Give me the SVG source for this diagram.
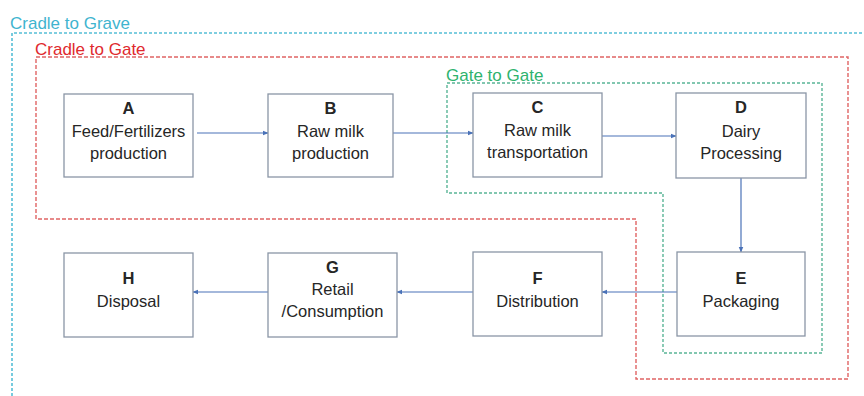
<svg xmlns="http://www.w3.org/2000/svg" width="864" height="396" viewBox="0 0 864 396">
  <style>
    .box { fill: #ffffff; stroke: #8a96a6; stroke-width: 1.3; }
    .lbl { font-family: "Liberation Sans", Arial, sans-serif; font-size: 16.5px; fill: #262626; text-anchor: middle; }
    .key { font-weight: bold; }
    .scope { font-family: "Liberation Sans", Arial, sans-serif; font-size: 17px; }
    .flow { fill: none; stroke: #4a72b8; stroke-width: 1.2; marker-end: url(#arrow); }
  </style>
  <defs>
    <marker id="arrow" viewBox="0 0 10 10" refX="9" refY="5" markerWidth="6" markerHeight="6" orient="auto" markerUnits="userSpaceOnUse">
      <path d="M0,1 L10,5 L0,9 z" fill="#4a72b8"/>
    </marker>
  </defs>
  <rect width="864" height="396" fill="#ffffff"/>

  <!-- system boundaries -->
  <g id="cradle-to-grave">
    <text class="scope" x="10" y="29" fill="#3fb4cf">Cradle to Grave</text>
    <path d="M12,396 V33 H864" fill="none" stroke="#55bfd6" stroke-width="1.6" stroke-dasharray="3 2"/>
  </g>
  <g id="cradle-to-gate">
    <text class="scope" x="35" y="55" fill="#e0292e">Cradle to Gate</text>
    <path d="M36,219 V57 H848 V379 H636 V219 Z" fill="none" stroke="#e06464" stroke-width="1.4" stroke-dasharray="4 2"/>
  </g>
  <g id="gate-to-gate">
    <text class="scope" x="446" y="81" fill="#2eb36e">Gate to Gate</text>
    <path d="M447,193 V83 H822 V353 H663 V193 Z" fill="none" stroke="#5ab596" stroke-width="1.4" stroke-dasharray="3 2"/>
  </g>

  <!-- connectors -->
  <g id="connectors">
    <path class="flow" d="M197,133 H268"/>
    <path class="flow" d="M393,133 H473"/>
    <path class="flow" d="M602,136 H676"/>
    <path class="flow" d="M741,178 V252"/>
    <path class="flow" d="M677,292 H602"/>
    <path class="flow" d="M473,292 H397"/>
    <path class="flow" d="M268,292 H193"/>
  </g>

  <!-- process nodes -->
  <g id="node-A">
    <rect class="box" x="64" y="94" width="129" height="83"/>
    <text class="lbl key" x="128.5" y="114">A</text>
    <text class="lbl" x="128.5" y="137">Feed/Fertilizers</text>
    <text class="lbl" x="128.5" y="159">production</text>
  </g>
  <g id="node-B">
    <rect class="box" x="268" y="94" width="125" height="83"/>
    <text class="lbl key" x="330.5" y="114">B</text>
    <text class="lbl" x="330.5" y="137">Raw milk</text>
    <text class="lbl" x="330.5" y="159">production</text>
  </g>
  <g id="node-C">
    <rect class="box" x="473" y="93" width="129" height="84"/>
    <text class="lbl key" x="537.5" y="113">C</text>
    <text class="lbl" x="537.5" y="136">Raw milk</text>
    <text class="lbl" x="537.5" y="158">transportation</text>
  </g>
  <g id="node-D">
    <rect class="box" x="676" y="93" width="130" height="85"/>
    <text class="lbl key" x="741" y="113">D</text>
    <text class="lbl" x="741" y="137">Dairy</text>
    <text class="lbl" x="741" y="159">Processing</text>
  </g>
  <g id="node-E">
    <rect class="box" x="677" y="252" width="128" height="84"/>
    <text class="lbl key" x="741" y="284">E</text>
    <text class="lbl" x="741" y="307">Packaging</text>
  </g>
  <g id="node-F">
    <rect class="box" x="473" y="252" width="129" height="84"/>
    <text class="lbl key" x="537.5" y="284">F</text>
    <text class="lbl" x="537.5" y="307">Distribution</text>
  </g>
  <g id="node-G">
    <rect class="box" x="268" y="253" width="129" height="84"/>
    <text class="lbl key" x="332.5" y="273">G</text>
    <text class="lbl" x="332.5" y="295">Retail</text>
    <text class="lbl" x="332.5" y="317">/Consumption</text>
  </g>
  <g id="node-H">
    <rect class="box" x="64" y="253" width="129" height="84"/>
    <text class="lbl key" x="128.5" y="284">H</text>
    <text class="lbl" x="128.5" y="307">Disposal</text>
  </g>
</svg>
